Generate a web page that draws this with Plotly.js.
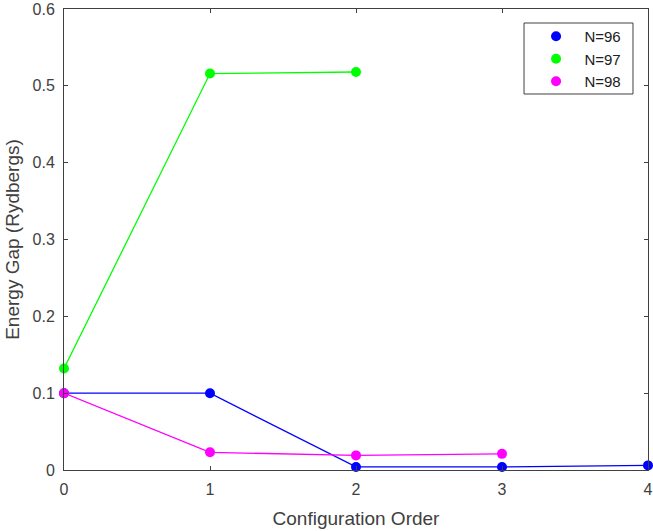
<!DOCTYPE html>
<html>
<head>
<meta charset="utf-8">
<script src="https://cdn.plot.ly/plotly-3.0.1.min.js"></script>
<style>html,body{margin:0;padding:0;background:#fff;}#chart{width:653px;height:531px;}</style>
</head>
<body>
<div id="chart"></div>
<script>
const seriesNames = ["N=96", "N=97", "N=98"];
const seriesColors = ["#0000ff", "#00ff00", "#ff00ff"];
const x96 = [0, 1, 2, 3, 4];
const y96 = [0.1, 0.1, 0.004, 0.004, 0.006];
const x97 = [0, 1, 2];
const y97 = [0.132, 0.516, 0.518];
const x98 = [0, 1, 2, 3];
const y98 = [0.1, 0.023, 0.019, 0.021];
const xTicks = [0, 1, 2, 3, 4];
const yTicks = [0, 0.1, 0.2, 0.3, 0.4, 0.5, 0.6];
const yTickText = ["0", "0.1", "0.2", "0.3", "0.4", "0.5", "0.6"];

const FONT = "Liberation Sans, Arial, sans-serif";
const xs = [x96, x97, x98];
const ys = [y96, y97, y98];
const traces = [];
for (let i = 0; i < 3; i++) {
  traces.push({
    x: xs[i], y: ys[i], mode: "lines+markers", type: "scatter",
    showlegend: false, cliponaxis: false,
    line: {color: seriesColors[i], width: 1.3},
    marker: {color: seriesColors[i], size: 10}
  });
}
const pad = "\u00a0\u00a0";
for (let i = 0; i < 3; i++) {
  traces.push({
    x: [null], y: [null], mode: "markers", type: "scatter",
    name: pad + seriesNames[i], showlegend: true,
    marker: {color: seriesColors[i], size: 10}
  });
}
const axisCommon = {
  showline: true, linecolor: "#404040", linewidth: 1, mirror: "ticks",
  ticks: "inside", ticklen: 4, tickcolor: "#404040",
  showgrid: false, zeroline: false,
  tickfont: {family: FONT, size: 16, color: "#404040"}
};
const layout = {
  width: 653, height: 531,
  margin: {l: 64, r: 5, t: 9, b: 61, autoexpand: false},
  paper_bgcolor: "#ffffff", plot_bgcolor: "#ffffff",
  font: {family: FONT, color: "#404040"},
  xaxis: Object.assign({}, axisCommon, {
    range: [0, 4], tickvals: xTicks, ticklabelstandoff: 5,
    title: {text: "Configuration Order", font: {size: 19, color: "#404040"}, standoff: 14}
  }),
  yaxis: Object.assign({}, axisCommon, {
    range: [0, 0.6], tickvals: yTicks, ticktext: yTickText, ticklabelstandoff: 5,
    title: {text: "Energy Gap (Rydbergs)", font: {size: 19, color: "#404040"}, standoff: 7}
  }),
  shapes: [{
    type: "rect", xref: "paper", yref: "paper",
    x0: 0.7877, x1: 0.9743, y0: 0.8156, y1: 0.9696,
    line: {color: "#404040", width: 1}, fillcolor: "rgba(0,0,0,0)", layer: "above"
  }],
  legend: {
    x: 0.8083, y: 0.976, xanchor: "left", yanchor: "top",
    borderwidth: 0, bgcolor: "rgba(0,0,0,0)",
    font: {family: FONT, size: 15, color: "#202020"},
    tracegroupgap: 0
  },
  showlegend: true
};
Plotly.newPlot("chart", traces, layout, {displayModeBar: false, staticPlot: true});
</script>
</body>
</html>
